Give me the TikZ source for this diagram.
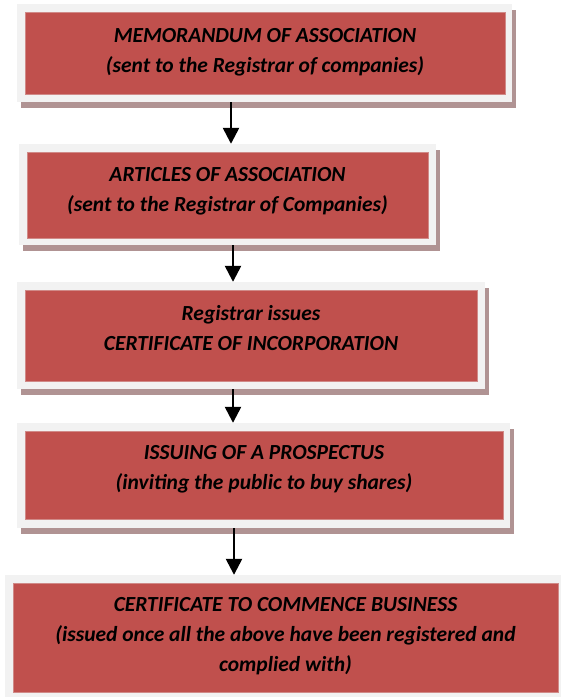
\documentclass[tikz,border=0pt]{standalone}
\usepackage{fontspec}
\setmainfont{Carlito}
\usetikzlibrary{arrows.meta,shadows}
\definecolor{redc}{HTML}{C0504D}
\definecolor{grayc}{HTML}{F2F2F2}
\definecolor{shadowc}{HTML}{B09393}
\definecolor{edgec}{HTML}{D08A88}
\begin{document}
\begin{tikzpicture}[x=1pt,y=-1pt,
  outerbox/.style={rectangle, fill=grayc, inner sep=0pt,
    general shadow={fill=shadowc, shadow xshift=3.5pt, shadow yshift=-6pt}},
  innerbox/.style={rectangle, fill=redc, draw=edgec, line width=0.6pt, inner sep=0pt},
  boxtext/.style={align=center, inner sep=0pt,
    font=\fontsize{21.5}{30}\selectfont\bfseries\itshape},
  arr/.style={line width=2.5pt, -{Triangle[width=16pt,length=16pt]}}]
\useasboundingbox (0,0) rectangle (561,697);
% box 1
\node[outerbox, minimum width=495pt, minimum height=98pt] (b1) at (264.5,53) {};
\node[innerbox, minimum width=480pt, minimum height=82pt] (r1) at (265,53) {};
\node[boxtext] (t1) at (265,52) {MEMORANDUM OF ASSOCIATION\\(sent to the Registrar of companies)};
% box 2
\node[outerbox, minimum width=417pt, minimum height=101pt] (b2) at (227.5,194.5) {};
\node[innerbox, minimum width=401pt, minimum height=86pt] (r2) at (227.5,195) {};
\node[boxtext] (t2) at (227.5,191.5) {ARTICLES OF ASSOCIATION\\(sent to the Registrar of Companies)};
% box 3
\node[outerbox, minimum width=468pt, minimum height=107pt] (b3) at (251,335.5) {};
\node[innerbox, minimum width=452pt, minimum height=91pt] (r3) at (251,335.5) {};
\node[boxtext] (t3) at (251,328) {Registrar issues\\CERTIFICATE OF INCORPORATION};
% box 4
\node[outerbox, minimum width=493pt, minimum height=105pt] (b4) at (263.5,475.5) {};
\node[innerbox, minimum width=478pt, minimum height=88pt] (r4) at (264,475) {};
\node[boxtext] (t4) at (264,469) {ISSUING OF A PROSPECTUS\\(inviting the public to buy shares)};
% box 5
\node[outerbox, minimum width=561pt, minimum height=125pt] (b5) at (285.5,637.5) {};
\node[innerbox, minimum width=545pt, minimum height=109pt] (r5) at (285.5,637.5) {};
\node[boxtext] (t5) at (285.5,636) {CERTIFICATE TO COMMENCE BUSINESS\\(issued once all the above have been registered and\\complied with)};
% arrows
\coordinate (a1) at (231,0);
\coordinate (a2) at (233,0);
\coordinate (a3) at (233,0);
\coordinate (a4) at (234,0);
\draw[arr] (b1.south -| a1) -- (b2.north -| a1);
\draw[arr] (b2.south -| a2) -- (b3.north -| a2);
\draw[arr] (b3.south -| a3) -- (b4.north -| a3);
\draw[arr] (b4.south -| a4) -- (b5.north -| a4);
\end{tikzpicture}
\end{document}
